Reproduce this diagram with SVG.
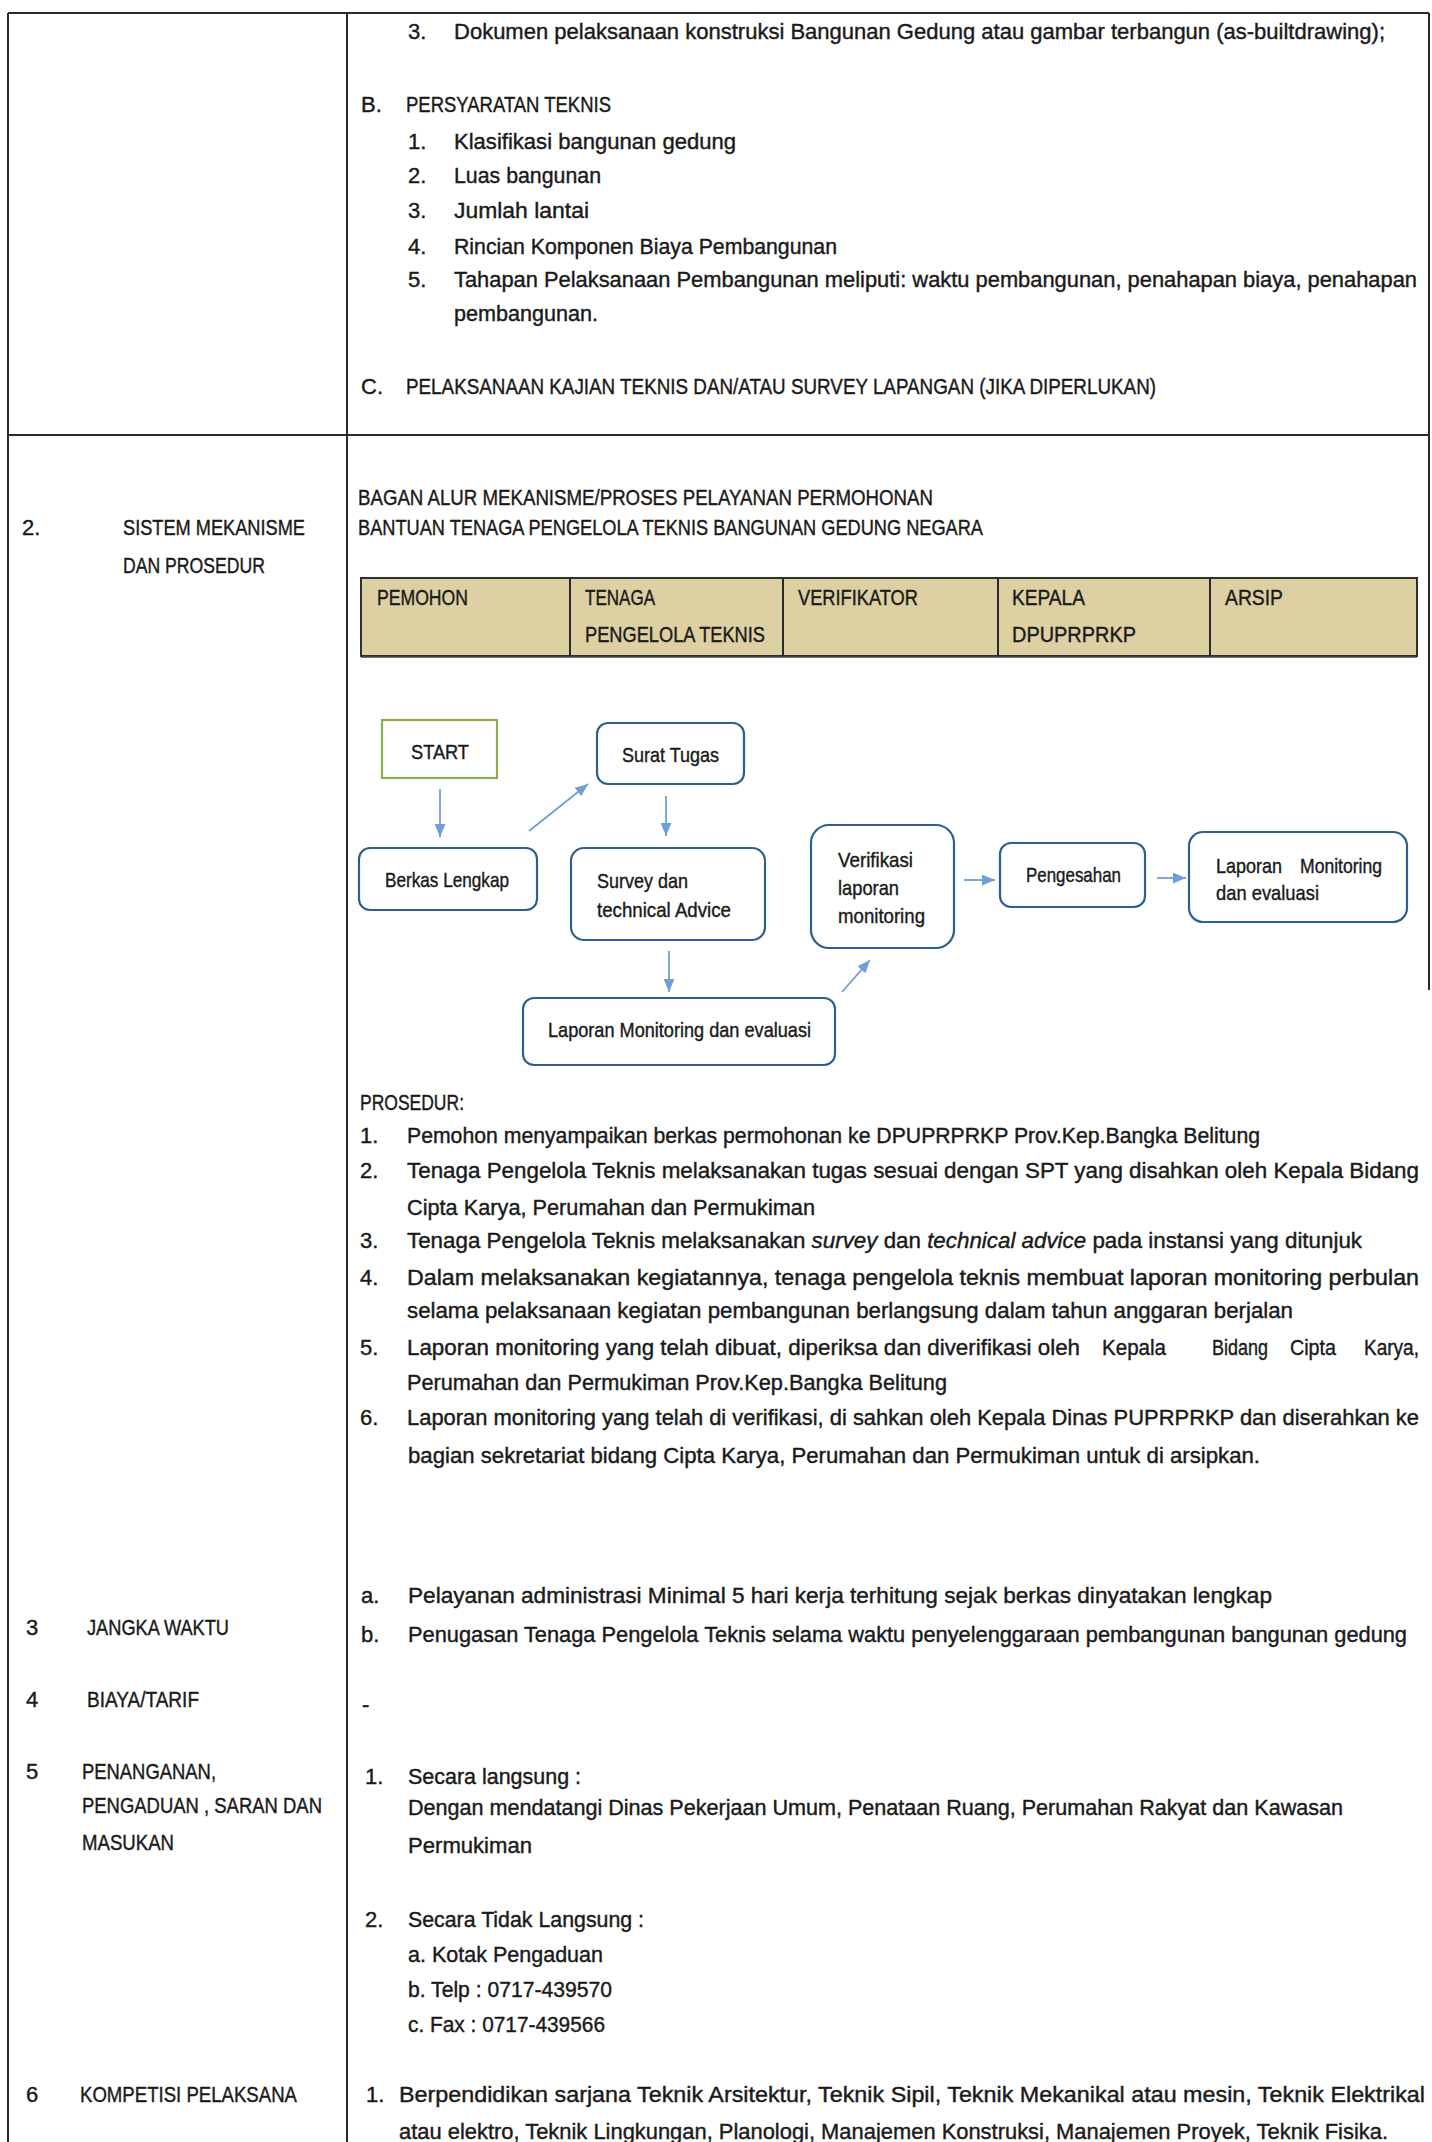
<svg xmlns="http://www.w3.org/2000/svg" width="1432" height="2142" viewBox="0 0 1432 2142">
<style>
.t{font-family:"Liberation Sans",Arial,sans-serif;font-size:22px;fill:#1a1a1a;stroke:#1a1a1a;stroke-width:0.4}
.n{font-family:"Liberation Sans",Arial,sans-serif;font-size:21px;fill:#1a1a1a;stroke:#1a1a1a;stroke-width:0.4}
.grid{stroke:#2a2a2a;stroke-width:2;fill:none}
.node{fill:#ffffff;stroke:#2f5f8f;stroke-width:2.2}
.start{fill:#ffffff;stroke:#8aad4f;stroke-width:2.2}
.arrow{stroke:#6f9fd6;stroke-width:1.8;fill:none;marker-end:url(#ah)}
.hdr{fill:#ddd0a3;stroke:#2f2f2f;stroke-width:2}
</style>
<defs>
<marker id="ah" viewBox="0 0 12 10" refX="12" refY="5" markerWidth="13" markerHeight="11" markerUnits="userSpaceOnUse" orient="auto">
<path d="M0,0 L12,5 L0,10 z" fill="#6f9fd6"/>
</marker>
</defs>
<rect x="0" y="0" width="1432" height="2142" fill="#ffffff"/>

<g id="table-grid">
<line class="grid" x1="8" y1="13" x2="1429" y2="13"/>
<line class="grid" x1="8" y1="435" x2="1429" y2="435"/>
<line class="grid" x1="8" y1="13" x2="8" y2="2142" stroke-width="1.6"/>
<line class="grid" x1="347" y1="13" x2="347" y2="2142" stroke-width="1.6"/>
<line class="grid" x1="1429" y1="13" x2="1429" y2="990" stroke-width="1.4" stroke="#666"/>
</g>

<g id="section1">
<text class="t" x="408" y="39">3.</text>
<text class="t" x="454" y="39" textLength="931" lengthAdjust="spacingAndGlyphs">Dokumen pelaksanaan konstruksi Bangunan Gedung atau gambar terbangun (as-builtdrawing);</text>
<text class="t" x="361" y="112">B.</text>
<text class="t" x="406" y="112" textLength="205" lengthAdjust="spacingAndGlyphs">PERSYARATAN TEKNIS</text>
<text class="t" x="408" y="149">1.</text>
<text class="t" x="454" y="149" textLength="282" lengthAdjust="spacingAndGlyphs">Klasifikasi bangunan gedung</text>
<text class="t" x="408" y="183">2.</text>
<text class="t" x="454" y="183" textLength="147" lengthAdjust="spacingAndGlyphs">Luas bangunan</text>
<text class="t" x="408" y="218">3.</text>
<text class="t" x="454" y="218" textLength="135" lengthAdjust="spacingAndGlyphs">Jumlah lantai</text>
<text class="t" x="408" y="254">4.</text>
<text class="t" x="454" y="254" textLength="383" lengthAdjust="spacingAndGlyphs">Rincian Komponen Biaya Pembangunan</text>
<text class="t" x="408" y="287">5.</text>
<text class="t" x="454" y="287" textLength="963" lengthAdjust="spacingAndGlyphs">Tahapan Pelaksanaan Pembangunan meliputi: waktu pembangunan, penahapan biaya, penahapan</text>
<text class="t" x="454" y="321" textLength="144" lengthAdjust="spacingAndGlyphs">pembangunan.</text>
<text class="t" x="361" y="394">C.</text>
<text class="t" x="406" y="394" textLength="750" lengthAdjust="spacingAndGlyphs">PELAKSANAAN KAJIAN TEKNIS DAN/ATAU SURVEY LAPANGAN (JIKA DIPERLUKAN)</text>
</g>

<g id="section2-label">
<text class="t" x="22" y="535">2.</text>
<text class="t" x="123" y="535" textLength="182" lengthAdjust="spacingAndGlyphs">SISTEM MEKANISME</text>
<text class="t" x="123" y="573" textLength="142" lengthAdjust="spacingAndGlyphs">DAN PROSEDUR</text>
</g>

<g id="section2-title">
<text class="t" x="358" y="505" textLength="575" lengthAdjust="spacingAndGlyphs">BAGAN ALUR MEKANISME/PROSES PELAYANAN PERMOHONAN</text>
<text class="t" x="358" y="535" textLength="625" lengthAdjust="spacingAndGlyphs">BANTUAN TENAGA PENGELOLA TEKNIS BANGUNAN GEDUNG NEGARA</text>
</g>

<g id="swimlane-header">
<rect class="hdr" x="361" y="578" width="1056" height="78"/>
<line x1="361" y1="657" x2="1417" y2="657" stroke="#444" stroke-width="1.5"/>
<line class="grid" x1="570" y1="578" x2="570" y2="656" stroke-width="1.5"/>
<line class="grid" x1="783" y1="578" x2="783" y2="656" stroke-width="1.5"/>
<line class="grid" x1="998" y1="578" x2="998" y2="656" stroke-width="1.5"/>
<line class="grid" x1="1210" y1="578" x2="1210" y2="656" stroke-width="1.5"/>
<text class="t" x="377" y="605" textLength="91" lengthAdjust="spacingAndGlyphs">PEMOHON</text>
<text class="t" x="585" y="605" textLength="70" lengthAdjust="spacingAndGlyphs">TENAGA</text>
<text class="t" x="585" y="642" textLength="180" lengthAdjust="spacingAndGlyphs">PENGELOLA TEKNIS</text>
<text class="t" x="798" y="605" textLength="120" lengthAdjust="spacingAndGlyphs">VERIFIKATOR</text>
<text class="t" x="1012" y="605" textLength="73" lengthAdjust="spacingAndGlyphs">KEPALA</text>
<text class="t" x="1012" y="642" textLength="124" lengthAdjust="spacingAndGlyphs">DPUPRPRKP</text>
<text class="t" x="1225" y="605" textLength="58" lengthAdjust="spacingAndGlyphs">ARSIP</text>
</g>

<g id="connectors">
<line class="arrow" x1="440" y1="789" x2="440" y2="837"/>
<line class="arrow" x1="529" y1="831" x2="588" y2="784"/>
<line class="arrow" x1="666" y1="796" x2="666" y2="836"/>
<line class="arrow" x1="669" y1="951" x2="669" y2="992"/>
<line class="arrow" x1="842" y1="992" x2="870" y2="960"/>
<line class="arrow" x1="964" y1="880" x2="995" y2="880"/>
<line class="arrow" x1="1157" y1="878" x2="1186" y2="878"/>
</g>

<g id="node-start">
<rect class="start" x="382" y="720" width="115" height="58"/>
<text class="n" x="440" y="759" text-anchor="middle" font-size="25" textLength="58" lengthAdjust="spacingAndGlyphs">START</text>
</g>
<g id="node-surat-tugas">
<rect class="node" x="597" y="723" width="147" height="61" rx="11"/>
<text class="n" x="622" y="762" textLength="97" lengthAdjust="spacingAndGlyphs">Surat Tugas</text>
</g>
<g id="node-berkas-lengkap">
<rect class="node" x="359" y="848" width="178" height="62" rx="11"/>
<text class="n" x="385" y="887" textLength="124" lengthAdjust="spacingAndGlyphs">Berkas Lengkap</text>
</g>
<g id="node-survey">
<rect class="node" x="571" y="848" width="194" height="92" rx="13"/>
<text class="n" x="597" y="888" textLength="91" lengthAdjust="spacingAndGlyphs">Survey dan</text>
<text class="n" x="597" y="917" textLength="134" lengthAdjust="spacingAndGlyphs">technical Advice</text>
</g>
<g id="node-laporan-bawah">
<rect class="node" x="523" y="998" width="312" height="67" rx="11"/>
<text class="n" x="548" y="1037" textLength="263" lengthAdjust="spacingAndGlyphs">Laporan Monitoring dan evaluasi</text>
</g>
<g id="node-verifikasi">
<rect class="node" x="811" y="825" width="143" height="123" rx="18"/>
<text class="n" x="838" y="867" textLength="75" lengthAdjust="spacingAndGlyphs">Verifikasi</text>
<text class="n" x="838" y="895" textLength="61" lengthAdjust="spacingAndGlyphs">laporan</text>
<text class="n" x="838" y="923" textLength="87" lengthAdjust="spacingAndGlyphs">monitoring</text>
</g>
<g id="node-pengesahan">
<rect class="node" x="1000" y="843" width="145" height="64" rx="11"/>
<text class="n" x="1026" y="882" textLength="95" lengthAdjust="spacingAndGlyphs">Pengesahan</text>
</g>
<g id="node-laporan-kanan">
<rect class="node" x="1189" y="832" width="218" height="90" rx="14"/>
<text class="n" x="1216" y="873" textLength="66" lengthAdjust="spacingAndGlyphs">Laporan</text>
<text class="n" x="1300" y="873" textLength="82" lengthAdjust="spacingAndGlyphs">Monitoring</text>
<text class="n" x="1216" y="900" textLength="103" lengthAdjust="spacingAndGlyphs">dan evaluasi</text>
</g>

<g id="prosedur">
<text class="t" x="360" y="1110" textLength="104" lengthAdjust="spacingAndGlyphs">PROSEDUR:</text>
<text class="t" x="360" y="1143">1.</text>
<text class="t" x="407" y="1143" textLength="853" lengthAdjust="spacingAndGlyphs">Pemohon menyampaikan berkas permohonan ke DPUPRPRKP Prov.Kep.Bangka Belitung</text>
<text class="t" x="360" y="1178">2.</text>
<text class="t" x="407" y="1178" textLength="1012" lengthAdjust="spacingAndGlyphs">Tenaga Pengelola Teknis melaksanakan tugas sesuai dengan SPT yang disahkan oleh Kepala Bidang</text>
<text class="t" x="407" y="1215" textLength="408" lengthAdjust="spacingAndGlyphs">Cipta Karya, Perumahan dan Permukiman</text>
<text class="t" x="360" y="1248">3.</text>
<text class="t" x="407" y="1248" textLength="955" lengthAdjust="spacingAndGlyphs">Tenaga Pengelola Teknis melaksanakan <tspan font-style="italic">survey</tspan> dan <tspan font-style="italic">technical advice</tspan> pada instansi yang ditunjuk</text>
<text class="t" x="360" y="1285">4.</text>
<text class="t" x="407" y="1285" textLength="1012" lengthAdjust="spacingAndGlyphs">Dalam melaksanakan kegiatannya, tenaga pengelola teknis membuat laporan monitoring perbulan</text>
<text class="t" x="407" y="1318" textLength="886" lengthAdjust="spacingAndGlyphs">selama pelaksanaan kegiatan pembangunan berlangsung dalam tahun anggaran berjalan</text>
<text class="t" x="360" y="1355">5.</text>
<text class="t" x="407" y="1355" font-size="21" textLength="673" lengthAdjust="spacingAndGlyphs">Laporan monitoring yang telah dibuat, diperiksa dan diverifikasi oleh</text>
<text class="t" x="1102" y="1355" textLength="64" lengthAdjust="spacingAndGlyphs">Kepala</text>
<text class="t" x="1212" y="1355" textLength="56" lengthAdjust="spacingAndGlyphs">Bidang</text>
<text class="t" x="1290" y="1355" textLength="46" lengthAdjust="spacingAndGlyphs">Cipta</text>
<text class="t" x="1364" y="1355" textLength="55" lengthAdjust="spacingAndGlyphs">Karya,</text>
<text class="t" x="407" y="1390" textLength="540" lengthAdjust="spacingAndGlyphs">Perumahan dan Permukiman Prov.Kep.Bangka Belitung</text>
<text class="t" x="360" y="1425">6.</text>
<text class="t" x="407" y="1425" textLength="1012" lengthAdjust="spacingAndGlyphs">Laporan monitoring yang telah di verifikasi, di sahkan oleh Kepala Dinas PUPRPRKP dan diserahkan ke</text>
<text class="t" x="408" y="1463" textLength="852" lengthAdjust="spacingAndGlyphs">bagian sekretariat bidang Cipta Karya, Perumahan dan Permukiman untuk di arsipkan.</text>
</g>

<g id="section3">
<text class="t" x="26" y="1635">3</text>
<text class="t" x="87" y="1635" textLength="142" lengthAdjust="spacingAndGlyphs">JANGKA WAKTU</text>
<text class="t" x="361" y="1603">a.</text>
<text class="t" x="408" y="1603" textLength="864" lengthAdjust="spacingAndGlyphs">Pelayanan administrasi Minimal 5 hari kerja terhitung sejak berkas dinyatakan lengkap</text>
<text class="t" x="361" y="1642">b.</text>
<text class="t" x="408" y="1642" textLength="999" lengthAdjust="spacingAndGlyphs">Penugasan Tenaga Pengelola Teknis selama waktu penyelenggaraan pembangunan bangunan gedung</text>
</g>

<g id="section4">
<text class="t" x="26" y="1707">4</text>
<text class="t" x="87" y="1707" textLength="112" lengthAdjust="spacingAndGlyphs">BIAYA/TARIF</text>
<text class="t" x="362" y="1712">-</text>
</g>

<g id="section5">
<text class="t" x="26" y="1779">5</text>
<text class="t" x="82" y="1779" textLength="134" lengthAdjust="spacingAndGlyphs">PENANGANAN,</text>
<text class="t" x="82" y="1813" textLength="240" lengthAdjust="spacingAndGlyphs">PENGADUAN , SARAN DAN</text>
<text class="t" x="82" y="1850" textLength="92" lengthAdjust="spacingAndGlyphs">MASUKAN</text>
<text class="t" x="365" y="1784">1.</text>
<text class="t" x="408" y="1784" textLength="173" lengthAdjust="spacingAndGlyphs">Secara langsung :</text>
<text class="t" x="408" y="1815" textLength="935" lengthAdjust="spacingAndGlyphs">Dengan mendatangi Dinas Pekerjaan Umum, Penataan Ruang, Perumahan Rakyat dan Kawasan</text>
<text class="t" x="408" y="1853" textLength="124" lengthAdjust="spacingAndGlyphs">Permukiman</text>
<text class="t" x="365" y="1927">2.</text>
<text class="t" x="408" y="1927" textLength="236" lengthAdjust="spacingAndGlyphs">Secara Tidak Langsung :</text>
<text class="t" x="408" y="1962" textLength="195" lengthAdjust="spacingAndGlyphs">a. Kotak Pengaduan</text>
<text class="t" x="408" y="1997" textLength="204" lengthAdjust="spacingAndGlyphs">b. Telp : 0717-439570</text>
<text class="t" x="408" y="2032" textLength="197" lengthAdjust="spacingAndGlyphs">c. Fax : 0717-439566</text>
</g>

<g id="section6">
<text class="t" x="26" y="2102">6</text>
<text class="t" x="80" y="2102" textLength="217" lengthAdjust="spacingAndGlyphs">KOMPETISI PELAKSANA</text>
<text class="t" x="366" y="2102">1.</text>
<text class="t" x="399" y="2102" textLength="1026" lengthAdjust="spacingAndGlyphs">Berpendidikan sarjana  Teknik Arsitektur, Teknik Sipil, Teknik Mekanikal atau mesin, Teknik Elektrikal</text>
<text class="t" x="399" y="2139" textLength="989" lengthAdjust="spacingAndGlyphs">atau elektro, Teknik Lingkungan, Planologi, Manajemen Konstruksi, Manajemen Proyek, Teknik Fisika.</text>
</g>
</svg>
